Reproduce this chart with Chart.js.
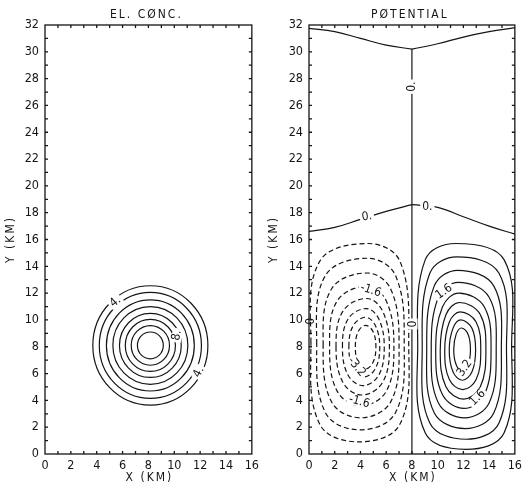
<!DOCTYPE html>
<html>
<head>
<meta charset="utf-8">
<script src="https://cdn.jsdelivr.net/npm/chart.js@4/dist/chart.umd.min.js"></script>
<style>
  html, body { margin: 0; padding: 0; background: #fff; }
  #wrap { position: relative; width: 526px; height: 496px; }
  canvas { position: absolute; top: 0; }
</style>
</head>
<body>
<div id="wrap">
  <canvas id="conc" width="263" height="496" style="left:0"></canvas>
  <canvas id="pot" width="263" height="496" style="left:263px"></canvas>
</div>
<script>
// ASSI
const X_TICKS = [0, 2, 4, 6, 8, 10, 12, 14, 16];
const Y_TICKS = [0, 2, 4, 6, 8, 10, 12, 14, 16, 18, 20, 22, 24, 26, 28, 30, 32];

// EL. CONC. : cerchi concentrici attorno al centro della nube
const CONC_CENTRE = [8.15, 8.1];
const CONC_RADII = [1.0, 1.48, 1.94, 2.39, 2.9, 3.4, 3.95, 4.45];
const CONC_LABELS = [
  { t: '4.', x: 5.45, y: 11.35, rot: -40 },
  { t: '4.', x: 11.9, y: 6.1, rot: -63 },
  { t: '8.', x: 10.2, y: 8.85, rot: -80 }
];

// POTENTIAL : isolinee negative (tratteggiate), punti L, TL, T, TR, R, BR, B, BL
const NEG_LOOPS = [
  [[0.15, 8.3], [0.83, 14.37], [4.6, 15.7], [7.07, 14.37], [7.75, 8.3], [7.07, 2.23], [3.9, 0.9], [0.83, 2.23]],
  [[0.6, 8.2], [1.28, 13.32], [4.55, 14.6], [6.72, 13.32], [7.4, 8.2], [6.72, 3.08], [3.95, 1.8], [1.28, 3.08]],
  [[1.1, 8.1], [1.75, 12.31], [4.5, 13.5], [6.35, 12.31], [7.0, 8.1], [6.35, 3.89], [4.0, 2.7], [1.75, 3.89]],
  [[1.6, 8.05], [2.2, 11.43], [4.5, 12.5], [6.0, 11.43], [6.6, 8.05], [6.0, 4.67], [4.05, 3.6], [2.2, 4.67]],
  [[2.1, 8.0], [2.64, 10.66], [4.5, 11.6], [5.72, 10.66], [6.25, 8.0], [5.72, 5.34], [4.1, 4.4], [2.64, 5.34]],
  [[2.6, 7.98], [3.04, 10.08], [4.45, 10.85], [5.42, 10.08], [5.85, 7.98], [5.42, 5.88], [4.2, 5.1], [3.04, 5.88]],
  [[3.1, 7.98], [3.44, 9.58], [4.4, 10.2], [5.16, 9.58], [5.5, 7.98], [5.16, 6.38], [4.3, 5.75], [3.44, 6.38]],
  [[3.6, 7.98], [3.83, 9.14], [4.4, 9.6], [4.97, 9.14], [5.2, 7.98], [4.97, 6.82], [4.4, 6.35], [3.83, 6.82]]
];

// isolinee positive (continue)
const POS_LOOPS = [
  [[8.45, 8.03], [9.03, 14.48], [11.4, 15.7], [15.17, 14.48], [15.75, 8.03], [15.17, 1.58], [12.2, 0.35], [9.03, 1.58]],
  [[8.8, 7.9], [9.39, 13.48], [11.5, 14.7], [14.77, 13.48], [15.35, 7.9], [14.77, 2.32], [12.2, 1.1], [9.39, 2.32]],
  [[9.15, 7.8], [9.73, 12.52], [11.55, 13.7], [14.37, 12.52], [14.95, 7.8], [14.37, 3.08], [12.15, 1.9], [9.73, 3.08]],
  [[9.5, 7.75], [10.06, 11.69], [11.6, 12.8], [14.0, 11.69], [14.55, 7.75], [14.0, 3.81], [12.1, 2.7], [10.06, 3.81]],
  [[9.85, 7.7], [10.37, 10.97], [11.65, 12.0], [13.63, 10.97], [14.15, 7.7], [13.63, 4.43], [12.05, 3.4], [10.37, 4.43]],
  [[10.2, 7.7], [10.65, 10.4], [11.7, 11.3], [13.31, 10.4], [13.75, 7.7], [13.31, 5.0], [12.0, 4.1], [10.65, 5.0]],
  [[10.55, 7.7], [10.91, 9.85], [11.75, 10.6], [12.99, 9.85], [13.35, 7.7], [12.99, 5.55], [11.95, 4.8], [10.91, 5.55]],
  [[10.9, 7.75], [11.19, 9.37], [11.8, 10.0], [12.67, 9.37], [12.95, 7.75], [12.67, 6.13], [11.92, 5.5], [11.19, 6.13]],
  [[11.25, 7.8], [11.44, 8.94], [11.85, 9.4], [12.36, 8.94], [12.55, 7.8], [12.36, 6.66], [11.9, 6.2], [11.44, 6.66]]
];

// isolinee zero
const ZERO_TOP_L = [[0, 31.75], [2, 31.5], [4, 31.0], [6, 30.5], [8, 30.2]];
const ZERO_TOP_R = [[8, 30.2], [10, 30.6], [12, 31.1], [14, 31.5], [16, 31.8]];
const ZERO_VERT = [[8, 0], [8, 30.2]];
const ZERO_MID_L = [[0, 16.6], [2, 16.9], [4, 17.5], [6, 18.1], [8, 18.6]];
const ZERO_MID_R = [[8, 18.6], [10, 18.4], [12, 17.7], [14, 17.0], [16, 16.4]];

const POT_LABELS = [
  { t: '0.', x: 8.0, y: 27.4, rot: -90 },
  { t: '0.', x: 4.5, y: 17.7, rot: -8 },
  { t: '0.', x: 9.2, y: 18.4, rot: 0 },
  { t: '0', x: 0.15, y: 9.9, rot: -90, bg: false },
  { t: '0', x: 8.05, y: 9.7, rot: -90 },
  { t: '-1.6', x: 4.8, y: 12.2, rot: 18 },
  { t: '-1.6', x: 3.9, y: 3.9, rot: 15 },
  { t: '-3.2', x: 3.7, y: 6.5, rot: 50 },
  { t: '1.6', x: 10.5, y: 12.1, rot: -35 },
  { t: '1.6', x: 13.1, y: 4.2, rot: -45 },
  { t: '3.2', x: 12.1, y: 6.4, rot: -55 }
];

const INK = '#151515';
const FONT = '"Liberation Sans Narrow", "DejaVu Sans Condensed", "Liberation Sans", sans-serif';

function pts(list) {
  return list.map(p => ({ x: p[0], y: p[1] }));
}

// anello chiuso: si ripetono i vicini cosi' le tangenti alla chiusura sono corrette
function loopDataset(list, dashed, tension) {
  const n = list.length;
  const data = pts([list[n - 1], ...list, list[0], list[1]]);
  const last = data.length - 1;
  return {
    data, showLine: true, pointRadius: 0, borderColor: INK, borderWidth: 1.2,
    borderDash: dashed ? [5, 3] : [], tension,
    segment: {
      borderColor: c => (c.p0DataIndex === 0 || c.p1DataIndex === last) ? 'rgba(0,0,0,0)' : undefined
    }
  };
}

function openDataset(list, tension) {
  return { data: pts(list), showLine: true, pointRadius: 0, borderColor: INK, borderWidth: 1.2, tension };
}

function circleLoop(r) {
  const [cx, cy] = CONC_CENTRE;
  return [[cx - r, cy], [cx, cy + r], [cx + r, cy], [cx, cy - r]];
}

const deco = {
  id: 'deco',
  afterDatasetsDraw(chart, args, o) {
    const { ctx, chartArea: a, scales: { x, y } } = chart;
    ctx.save();
    ctx.lineWidth = 1.3;
    ctx.strokeStyle = INK;
    ctx.strokeRect(a.left, a.top, a.right - a.left, a.bottom - a.top);
    ctx.beginPath();
    for (let v = 1; v < 16; v++) {
      const px = x.getPixelForValue(v);
      ctx.moveTo(px, a.bottom); ctx.lineTo(px, a.bottom - 3);
      ctx.moveTo(px, a.top); ctx.lineTo(px, a.top + 3);
    }
    for (let v = 1; v < 32; v++) {
      const py = y.getPixelForValue(v);
      ctx.moveTo(a.left, py); ctx.lineTo(a.left + 3, py);
      ctx.moveTo(a.right, py); ctx.lineTo(a.right - 3, py);
    }
    ctx.stroke();

    ctx.font = '12px ' + FONT;
    ctx.textAlign = 'center';
    ctx.textBaseline = 'middle';
    o.labels.forEach(l => {
      ctx.save();
      ctx.translate(x.getPixelForValue(l.x), y.getPixelForValue(l.y));
      ctx.rotate(l.rot * Math.PI / 180);
      const w = ctx.measureText(l.t).width;
      if (l.bg !== false) {
        ctx.fillStyle = '#fff';
        ctx.fillRect(-w / 2 - 2, -5, w + 4, 10);
      }
      ctx.fillStyle = INK;
      ctx.fillText(l.t, 0, 0);
      ctx.restore();
    });

    ctx.font = '12px ' + FONT;
    ctx.letterSpacing = '2px';
    ctx.fillStyle = INK;
    const cx = (a.left + a.right) / 2;
    ctx.fillText(o.title, cx - 2, 15);
    ctx.fillText('X (KM)', cx + 1, 478);
    ctx.translate(11, (a.top + a.bottom) / 2);
    ctx.rotate(-Math.PI / 2);
    ctx.fillText('Y (KM)', 0, 0);
    ctx.restore();
  }
};

function scales(yWidth) {
  const tickFont = { family: FONT, size: 12.5 };
  return {
    x: {
      type: 'linear', min: 0, max: 16,
      afterBuildTicks: s => { s.ticks = X_TICKS.map(v => ({ value: v })); },
      afterFit: s => { s.height = 42; },
      grid: { display: false, drawTicks: false },
      border: { display: false },
      ticks: { font: tickFont, color: INK, padding: 4, maxRotation: 0, autoSkip: false }
    },
    y: {
      type: 'linear', min: 0, max: 32,
      afterBuildTicks: s => { s.ticks = Y_TICKS.map(v => ({ value: v })); },
      afterFit: s => { s.width = yWidth; },
      grid: { display: false, drawTicks: false },
      border: { display: false },
      ticks: { font: tickFont, color: INK, padding: 6, autoSkip: false }
    }
  };
}

function baseOptions(yWidth, padRight, title, labels) {
  return {
    responsive: false,
    animation: false,
    layout: { padding: { top: 25, right: padRight, left: 0, bottom: 0 } },
    elements: { line: { capBezierPoints: false } },
    plugins: { legend: { display: false }, tooltip: { enabled: false }, deco: { title, labels } },
    scales: scales(yWidth)
  };
}

new Chart(document.getElementById('conc'), {
  type: 'scatter',
  data: { datasets: CONC_RADII.map(r => loopDataset(circleLoop(r), false, 0.552)) },
  options: baseOptions(45, 6, 'EL. CØNC.', CONC_LABELS),
  plugins: [deco]
});

new Chart(document.getElementById('pot'), {
  type: 'scatter',
  data: {
    datasets: [
      ...NEG_LOOPS.map(l => loopDataset(l, true, 0.38)),
      ...POS_LOOPS.map(l => loopDataset(l, false, 0.38)),
      openDataset(ZERO_TOP_L, 0.4),
      openDataset(ZERO_TOP_R, 0.4),
      openDataset(ZERO_VERT, 0),
      openDataset(ZERO_MID_L, 0.4),
      openDataset(ZERO_MID_R, 0.4)
    ]
  },
  options: baseOptions(46, 4, 'PØTENTIAL', POT_LABELS),
  plugins: [deco]
});
</script>
</body>
</html>
